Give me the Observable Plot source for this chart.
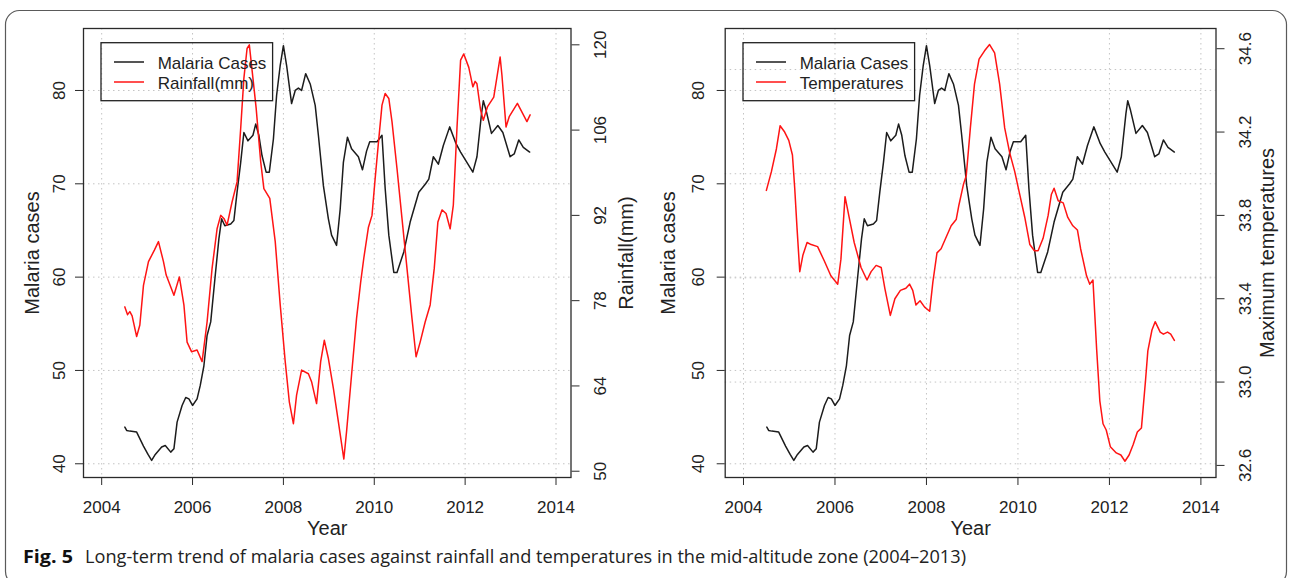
<!DOCTYPE html>
<html>
<head>
<meta charset="utf-8">
<script src="https://cdn.jsdelivr.net/npm/d3@7"></script>
<script src="https://cdn.jsdelivr.net/npm/@observablehq/plot@0.6"></script>
<style>
  html, body { margin: 0; padding: 0; background: #fff; }
  #root { position: relative; width: 1292px; height: 578px; overflow: hidden; font-family: "Liberation Sans", Arial, sans-serif; }
  .panel { position: absolute; top: 0; }
  #overlay { position: absolute; left: 0; top: 0; pointer-events: none; }
</style>
</head>
<body>
<div id="root">
  <div id="left" class="panel" style="left:0px"></div>
  <div id="right" class="panel" style="left:645px"></div>
  <svg id="overlay" width="1292" height="578"></svg>
</div>
<script>
// ---------------- data ----------------
const malariaYears = [2004.51,2004.55,2004.62,2004.77,2004.92,2005.02,2005.10,2005.18,2005.25,2005.32,2005.40,2005.52,2005.59,2005.66,2005.77,2005.85,2005.92,2006.00,2006.10,2006.17,2006.25,2006.32,2006.40,2006.50,2006.58,2006.64,2006.71,2006.84,2006.91,2006.98,2007.06,2007.13,2007.22,2007.33,2007.39,2007.46,2007.53,2007.62,2007.69,2007.78,2007.85,2007.93,2008.00,2008.07,2008.18,2008.26,2008.33,2008.40,2008.49,2008.59,2008.70,2008.77,2008.88,2008.99,2009.06,2009.17,2009.25,2009.32,2009.41,2009.50,2009.65,2009.74,2009.83,2009.90,2010.06,2010.17,2010.24,2010.32,2010.43,2010.50,2010.65,2010.79,2010.98,2011.13,2011.20,2011.30,2011.41,2011.52,2011.66,2011.80,2011.90,2012.17,2012.26,2012.36,2012.40,2012.46,2012.58,2012.72,2012.83,2012.99,2013.08,2013.18,2013.28,2013.42];
const malariaCases = [43.93,43.57,43.5,43.4,41.9,41.0,40.36,41.0,41.4,41.8,41.96,41.25,41.6,44.46,46.25,47.1,46.96,46.25,46.96,48.4,50.5,53.75,55.2,60.2,64.1,66.25,65.5,65.7,66.07,69.1,72.3,75.5,74.6,75.2,76.4,75.2,73.0,71.25,71.25,74.8,79.46,82.7,84.8,82.7,78.6,80.0,80.25,80.0,81.8,80.7,78.4,75.2,69.8,66.25,64.5,63.4,67.3,72.3,75.0,73.75,72.9,71.5,73.5,74.5,74.5,75.2,69.5,64.5,60.5,60.5,62.7,65.9,69.1,70.0,70.5,72.9,72.1,74.1,76.1,74.3,73.4,71.25,72.9,77.5,78.9,77.9,75.4,76.25,75.5,72.9,73.2,74.7,73.9,73.4];

const rainYears = [2004.51,2004.57,2004.62,2004.67,2004.77,2004.84,2004.92,2005.03,2005.16,2005.25,2005.36,2005.42,2005.59,2005.71,2005.81,2005.88,2005.98,2006.10,2006.21,2006.32,2006.43,2006.54,2006.62,2006.69,2006.76,2006.87,2006.98,2007.06,2007.13,2007.20,2007.25,2007.33,2007.40,2007.50,2007.57,2007.70,2007.82,2007.93,2008.04,2008.13,2008.22,2008.29,2008.40,2008.55,2008.62,2008.73,2008.82,2008.90,2008.99,2009.10,2009.21,2009.33,2009.39,2009.50,2009.61,2009.70,2009.77,2009.87,2009.95,2010.02,2010.10,2010.17,2010.24,2010.32,2010.39,2010.50,2010.61,2010.72,2010.83,2010.92,2011.01,2011.12,2011.23,2011.32,2011.40,2011.49,2011.58,2011.67,2011.74,2011.82,2011.90,2011.97,2012.08,2012.17,2012.22,2012.26,2012.34,2012.40,2012.49,2012.63,2012.77,2012.81,2012.90,2012.97,2013.15,2013.36,2013.43];
const rainfall = [76.98,75.7,76.2,75.5,72.1,74.0,80.5,84.4,86.3,87.7,84.4,82.2,78.9,81.9,77.3,71.2,69.6,69.9,68.0,74.5,83.3,89.8,92.0,91.5,90.4,94.2,97.5,106.3,114.5,119.4,120.0,114.5,109.6,100.8,96.4,94.8,87.7,77.3,68.0,61.4,57.8,62.5,66.6,66.0,64.7,61.1,68.0,71.5,68.5,63.6,58.1,52.0,56.5,65.8,75.1,81.0,85.0,90.0,92.0,98.1,104.6,110.1,112.0,111.2,107.4,99.7,91.5,83.3,75.1,68.8,71.2,74.5,77.3,83.3,90.9,92.9,92.3,89.8,93.7,106.3,117.5,118.5,116.3,113.1,114.0,113.6,109.3,107.6,109.8,111.4,118.0,115.0,106.5,108.2,110.4,107.4,108.5];

const tempYears = [2004.50,2004.61,2004.72,2004.80,2004.90,2004.99,2005.07,2005.12,2005.17,2005.23,2005.30,2005.39,2005.48,2005.62,2005.77,2005.91,2006.06,2006.13,2006.22,2006.31,2006.42,2006.57,2006.70,2006.79,2006.90,2007.01,2007.09,2007.21,2007.31,2007.43,2007.55,2007.63,2007.70,2007.77,2007.86,2007.96,2008.07,2008.14,2008.23,2008.32,2008.42,2008.54,2008.65,2008.71,2008.81,2008.87,2008.96,2009.05,2009.15,2009.27,2009.38,2009.49,2009.60,2009.71,2009.82,2009.93,2010.04,2010.15,2010.26,2010.36,2010.44,2010.55,2010.66,2010.73,2010.79,2010.88,2010.99,2011.09,2011.20,2011.30,2011.37,2011.50,2011.57,2011.64,2011.72,2011.79,2011.86,2011.93,2012.02,2012.15,2012.25,2012.34,2012.43,2012.52,2012.61,2012.70,2012.79,2012.84,2012.93,2013.00,2013.11,2013.18,2013.27,2013.34,2013.42];
const temperature = [33.92,34.01,34.12,34.23,34.20,34.16,34.09,33.93,33.74,33.53,33.61,33.67,33.66,33.65,33.58,33.51,33.47,33.59,33.89,33.79,33.67,33.55,33.49,33.53,33.56,33.55,33.45,33.32,33.40,33.44,33.45,33.47,33.44,33.37,33.39,33.36,33.34,33.48,33.62,33.64,33.69,33.75,33.78,33.85,33.95,33.99,34.22,34.43,34.55,34.59,34.62,34.58,34.43,34.22,34.10,34.01,33.90,33.79,33.66,33.63,33.63,33.69,33.80,33.90,33.93,33.87,33.86,33.79,33.75,33.73,33.64,33.51,33.47,33.49,33.16,32.91,32.80,32.77,32.69,32.66,32.65,32.62,32.65,32.70,32.76,32.78,33.01,33.15,33.25,33.29,33.24,33.23,33.24,33.23,33.20];

// tick labels
const yearTicks = [2004, 2006, 2008, 2010, 2012, 2014];
const caseTicks = [40, 50, 60, 70, 80];
const rainTicks = [50, 64, 78, 92, 106, 120];
const tempTicks = [32.6, 33.0, 33.4, 33.8, 34.2, 34.6];
const tempGrid = [33.0, 33.5, 34.0, 34.5];

// axis ranges (R-style 4% padding)
const xDomain = [2003.6, 2014.33];
const yDomain = [38.53, 86.64];
const rainDomain = [48.97, 122.68];
const tempDomain = [32.542, 34.697];

const FONT = "'Liberation Sans', Arial, Helvetica, sans-serif";
const gridStyle = {stroke: "#c4c4c4", strokeOpacity: 1, strokeWidth: 1, strokeDasharray: "1.5,3.5"};

function makePanel(o) {
  const toY = d3.scaleLinear(o.domain2, yDomain);
  const cases = malariaYears.map((x, i) => ({x, y: malariaCases[i]}));
  const second = o.years.map((x, i) => ({x, y: toY(o.values[i])}));
  const titleStyle = {rotate: -90, fontSize: 20, fill: "#222", textAnchor: "middle", lineAnchor: "middle"};
  return Plot.plot({
    width: o.width, height: 540,
    marginLeft: o.ml, marginRight: o.mr, marginTop: 28, marginBottom: 63,
    x: {domain: xDomain},
    y: {domain: yDomain},
    style: {fontFamily: FONT, background: "transparent", color: "#222", overflow: "visible"},
    marks: [
      Plot.gridX(yearTicks, gridStyle),
      Plot.gridY(caseTicks, gridStyle),
      o.grid2 ? Plot.gridY(o.grid2.map(toY), gridStyle) : null,
      Plot.line(cases, {x: "x", y: "y", stroke: "#1c1c1c", strokeWidth: 1.5}),
      Plot.line(second, {x: "x", y: "y", stroke: "#ff1414", strokeWidth: 1.5}),
      Plot.frame({stroke: "#2a2a2a", strokeWidth: 1.3}),
      Plot.axisX(yearTicks, {tickSize: 8, tickPadding: 15, fontSize: 17, tickFormat: d => String(d), label: null, stroke: "#2a2a2a"}),
      Plot.axisY(caseTicks, {anchor: "left", tickSize: 8, tickPadding: o.lpad, tickRotate: -90, fontSize: 17, label: null, stroke: "#2a2a2a"}),
      Plot.axisY(o.ticks2.map(toY), {anchor: "right", tickSize: 8, tickPadding: 15, tickRotate: -90, lineAnchor: "top", fontSize: 17, label: null, stroke: "#2a2a2a",
        tickFormat: d => o.fmt(toY.invert(d))}),
      Plot.text(["Malaria cases"], {frameAnchor: "left", dx: o.ltdx, ...titleStyle}),
      Plot.text([o.title2], {frameAnchor: "right", dx: o.rtdx, ...titleStyle}),
      Plot.text(["Year"], {frameAnchor: "bottom", dy: 51, fontSize: 20, fill: "#222", textAnchor: "middle", lineAnchor: "middle"})
    ]
  });
}

document.getElementById("left").append(makePanel({
  width: 645, ml: 83, mr: 74.5, lpad: 11, ltdx: -51, rtdx: 56,
  years: rainYears, values: rainfall, domain2: rainDomain,
  ticks2: rainTicks, fmt: v => String(Math.round(v)), title2: "Rainfall(mm)"
}));

document.getElementById("right").append(makePanel({
  width: 647, ml: 79.7, mr: 76.5, lpad: 13, ltdx: -57, rtdx: 51.5,
  years: tempYears, values: temperature, domain2: tempDomain, grid2: tempGrid,
  ticks2: tempTicks, fmt: v => (Math.round(v * 10) / 10).toFixed(1), title2: "Maximum temperatures"
}));

// ---------------- overlay: card border, legends, caption ----------------
const svg = d3.select("#overlay");
svg.append("rect").attr("x", 5.5).attr("y", 10.5).attr("width", 1281).attr("height", 575)
  .attr("rx", 14).attr("fill", "none").attr("stroke", "#5a5a5a").attr("stroke-width", 1.2);

function legend(x0, labels) {
  const g = svg.append("g").attr("font-family", FONT).attr("font-size", 17).attr("fill", "#222");
  g.append("rect").attr("x", x0).attr("y", 42.7).attr("width", 171.6).attr("height", 58)
    .attr("fill", "none").attr("stroke", "#222").attr("stroke-width", 1.3);
  const colors = ["#1c1c1c", "#ff1414"];
  const ys = [62, 82];
  labels.forEach((lab, i) => {
    g.append("line").attr("x1", x0 + 13).attr("x2", x0 + 43).attr("y1", ys[i]).attr("y2", ys[i])
      .attr("stroke", colors[i]).attr("stroke-width", 1.5);
    g.append("text").attr("x", x0 + 56.7).attr("y", ys[i] + 7.2).text(lab);
  });
}
legend(101, ["Malaria Cases", "Rainfall(mm)"]);
legend(743, ["Malaria Cases", "Temperatures"]);

svg.append("text").attr("x", 23).attr("y", 563).attr("font-family", "'Open Sans', 'Noto Sans', sans-serif")
  .attr("font-weight", 700).attr("font-size", 18).attr("fill", "#111")
  .attr("textLength", 50).attr("lengthAdjust", "spacingAndGlyphs").text("Fig. 5");
svg.append("text").attr("x", 85).attr("y", 563).attr("font-family", "'Open Sans', 'Noto Sans', sans-serif")
  .attr("font-size", 18).attr("fill", "#222")
  .attr("textLength", 881).attr("lengthAdjust", "spacingAndGlyphs")
  .text("Long-term trend of malaria cases against rainfall and temperatures in the mid-altitude zone (2004–2013)");
</script>
</body>
</html>
